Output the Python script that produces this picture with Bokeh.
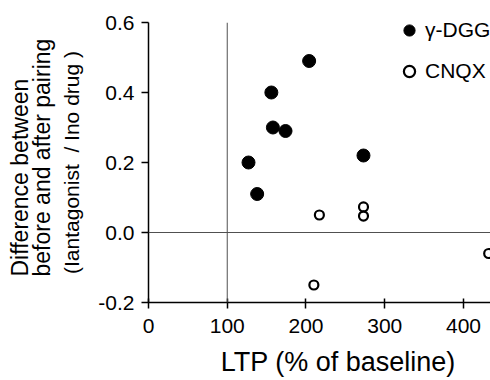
from bokeh.plotting import figure
from bokeh.models import (Span, Legend, LegendItem, FixedTicker, Title,
                          NumeralTickFormatter, Range1d)
from bokeh.embed import file_html
from bokeh.resources import INLINE

# ---- data ----
dgg_ltp = [127, 138, 156, 158, 174, 204, 273]
dgg_diff = [0.20, 0.11, 0.40, 0.30, 0.29, 0.49, 0.22]
cnqx_ltp = [217, 210, 273, 273, 432]
cnqx_diff = [0.05, -0.15, 0.073, 0.047, -0.06]
x_ticks = [0, 100, 200, 300, 400]
y_ticks = [-0.2, 0.0, 0.2, 0.4, 0.6]
series_names = ["γ-DGG", "CNQX"]
x_label = "LTP (% of baseline)"
y_label_lines = ["Difference between", "before and after pairing",
                 "(Iantagonist\u00a0 / Ino drug )"]
ref_ltp = 100
ref_diff = 0.0

FONT = "Liberation Sans"

p = figure(width=490, height=380,
           x_range=Range1d(0, 434.3), y_range=Range1d(-0.2, 0.6),
           output_backend="svg", toolbar_location=None,
           min_border_left=148, min_border_right=0,
           min_border_top=22, min_border_bottom=78)
p.outline_line_color = None
p.grid.visible = False
p.background_fill_color = "white"
p.border_fill_color = "white"

for ax in (p.xaxis[0], p.yaxis[0]):
    ax.axis_line_width = 1.5
    ax.axis_line_color = "black"
    ax.major_tick_line_width = 1.5
    ax.major_tick_line_color = "black"
    ax.minor_tick_line_color = None
    ax.major_label_text_font = FONT
    ax.major_label_text_font_size = "21px"
    ax.major_label_text_color = "black"
    ax.axis_label_text_font = FONT
    ax.axis_label_text_font_style = "normal"
    ax.axis_label_text_color = "black"

p.xaxis.ticker = FixedTicker(ticks=x_ticks)
p.yaxis.ticker = FixedTicker(ticks=y_ticks)
p.yaxis.formatter = NumeralTickFormatter(format="0.0")
p.xaxis.major_tick_in = 4
p.xaxis.major_tick_out = 6
p.xaxis.major_label_standoff = 10
p.yaxis.major_tick_in = 0
p.yaxis.major_tick_out = 7
p.yaxis.major_label_standoff = 7

# x-axis title (shifted right of the frame centre as in the reference)
p.xaxis.axis_label = "\u00a0" * 5 + x_label
p.xaxis.axis_label_text_font_size = "27px"
p.xaxis.axis_label_standoff = 11

# y-axis title: third line as the axis label, first two lines as a side title
p.yaxis.axis_label = y_label_lines[2]
p.yaxis.axis_label_text_font_size = "21px"
p.yaxis.axis_label_standoff = 12

p.add_layout(Title(text=y_label_lines[0] + "\n" + y_label_lines[1],
                   align="left", offset=26, vertical_align="bottom",
                   standoff=5, text_font=FONT, text_font_size="23px",
                   text_font_style="normal", text_line_height=0.856,
                   text_color="black"), "left")

p.add_layout(Span(location=ref_ltp, dimension="height",
                  line_color="#505050", line_width=1))
p.add_layout(Span(location=ref_diff, dimension="width",
                  line_color="#505050", line_width=1))

r1 = p.scatter(dgg_ltp, dgg_diff, marker="circle", size=13,
               fill_color="black", line_color="black")
r2 = p.scatter(cnqx_ltp, cnqx_diff, marker="circle", size=9,
               fill_color="white", line_color="black", line_width=2.2)

legend = Legend(items=[LegendItem(label=series_names[0], renderers=[r1]),
                       LegendItem(label=series_names[1], renderers=[r2])],
                location=(247, 217), orientation="vertical",
                border_line_color=None, background_fill_alpha=0,
                padding=0, margin=0, spacing=13,
                glyph_width=28, glyph_height=28, label_standoff=2,
                label_height=28,
                label_text_font=FONT, label_text_font_size="21px",
                label_text_color="black")
p.add_layout(legend)

open("out.html", "w").write(file_html(p, INLINE))
